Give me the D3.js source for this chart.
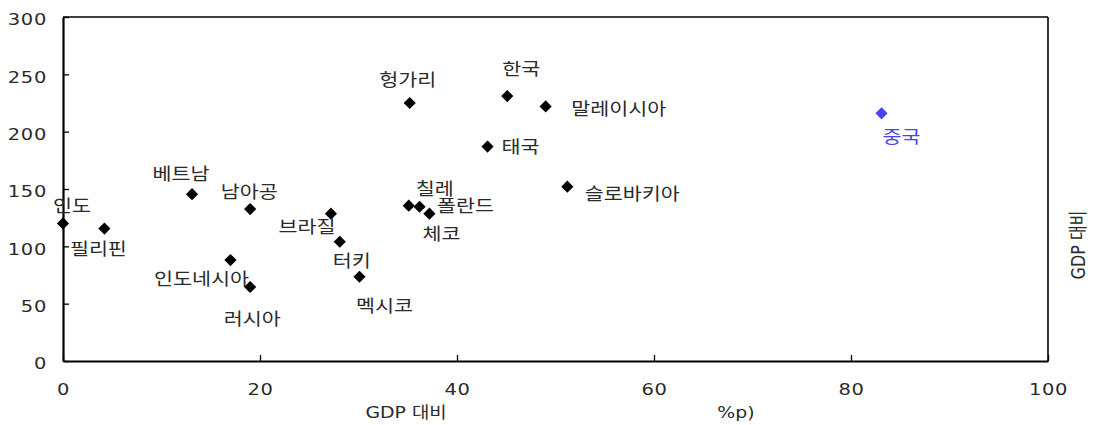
<!DOCTYPE html>
<html>
<head>
<meta charset="utf-8">
<script src="https://cdn.jsdelivr.net/npm/d3@7"></script>
<style>
  html, body { margin: 0; padding: 0; background: #fff; }
  svg { display: block; font-family: "DejaVu Sans", "Noto Sans CJK KR", sans-serif; }
</style>
</head>
<body>
<svg id="chart" width="1094" height="425"></svg>
<script>
// Countries and their two measures (x: % of GDP change, y: % of GDP)
const countries = ["인도", "필리핀", "베트남", "남아공", "인도네시아", "러시아", "브라질", "터키", "멕시코",
                   "칠레", "폴란드", "체코", "헝가리", "한국", "말레이시아", "태국", "슬로바키아", "중국"];
const xValues = [0, 4.2, 13.1, 19, 17, 19, 27.2, 28.1, 30.1, 35.1, 36.2, 37.2, 35.2, 45.1, 49, 43.1, 51.2, 83.1];
const yValues = [120, 115.5, 145.5, 132.5, 88, 64.5, 128.5, 104, 73.5, 135.5, 134.5, 128.5, 225, 231, 222, 187, 152, 216];
const highlighted = ["중국"];

const xTicks = [0, 20, 40, 60, 80, 100];
const yTicks = [0, 50, 100, 150, 200, 250, 300];

// Label placement around each marker (centre offset in px)
const labelOffsets = {
  "인도": [9, -19], "필리핀": [-6, 19], "베트남": [-11, -21], "남아공": [-1, -18],
  "인도네시아": [-29, 18], "러시아": [2, 31], "브라질": [-24, 12], "터키": [12, 18],
  "멕시코": [25, 28], "칠레": [26, -18], "폴란드": [46, -2], "체코": [12, 19],
  "헝가리": [-2, -24], "한국": [14, -28], "말레이시아": [73, 1], "태국": [33, -1],
  "슬로바키아": [65, 6], "중국": [20, 22]
};

const W = 1094, H = 425;
const margin = { top: 17, right: 46, bottom: 64, left: 63 };
const iw = W - margin.left - margin.right;
const ih = H - margin.top - margin.bottom;
const blue = "#4646ea";
const ink = "#2a2a2a";
const stretch = 1.18;   // wide lettering used throughout the figure

const svg = d3.select("#chart");
const g = svg.append("g").attr("transform", `translate(${margin.left},${margin.top})`);

const x = d3.scaleLinear().domain([0, 100]).range([0, iw]);
const y = d3.scaleLinear().domain([0, 300]).range([ih, 0]);

// Frame: top and right edges
g.append("line").attr("x1", 0).attr("x2", iw).attr("y1", 0).attr("y2", 0)
  .attr("stroke", "#000").attr("stroke-width", 1.6);
g.append("line").attr("x1", iw).attr("x2", iw).attr("y1", 0).attr("y2", ih)
  .attr("stroke", "#000").attr("stroke-width", 1.6);

// Axes with inward ticks
const xAxis = g.append("g").attr("transform", `translate(0,${ih})`)
  .call(d3.axisBottom(x).tickValues(xTicks).tickSize(-6).tickSizeOuter(0));
const yAxis = g.append("g")
  .call(d3.axisLeft(y).tickValues(yTicks).tickSize(-6).tickSizeOuter(0));

[xAxis, yAxis].forEach(a => {
  a.select(".domain").attr("stroke", "#000").attr("stroke-width", 2.2);
  a.selectAll(".tick line").attr("stroke", "#000").attr("stroke-width", 1.3);
  a.selectAll(".tick text").attr("fill", ink)
    .style("font-size", "16.5px").style("letter-spacing", "0.6px")
    .style("font-family", "'DejaVu Sans', sans-serif")
    .attr("x", 0).attr("y", 0).attr("dy", null)
    .attr("dominant-baseline", "central");
});
xAxis.selectAll(".tick text").attr("text-anchor", "middle")
  .attr("transform", `translate(0,28.5) scale(${stretch},1)`);
yAxis.selectAll(".tick text").attr("text-anchor", "end")
  .attr("transform", `translate(-16,2) scale(${stretch},1)`);

// Axis titles
function title(tx, ty, txt, rot) {
  svg.append("text")
    .attr("transform", `translate(${tx},${ty}) scale(${stretch},1)` + (rot ? ` rotate(${rot})` : ""))
    .attr("text-anchor", "middle").attr("dominant-baseline", "central")
    .style("font-size", "16px").attr("fill", ink)
    .text(txt);
}
title(406, 413, "GDP 대비");
title(736, 413, "%p)");
title(1079, 245, "GDP 대비", -90);

// Markers
const pts = countries.map((c, i) => ({ name: c, x: xValues[i], y: yValues[i] }));
const diamond = d3.symbol().type(d3.symbolSquare).size(74);

g.selectAll("path.pt").data(pts).join("path")
  .attr("class", "pt")
  .attr("d", diamond)
  .attr("transform", d => `translate(${x(d.x)},${y(d.y)}) rotate(45)`)
  .attr("fill", d => highlighted.includes(d.name) ? blue : "#000");

// Labels
g.selectAll("text.lbl").data(pts).join("text")
  .attr("class", "lbl")
  .attr("transform", d => `translate(${x(d.x) + labelOffsets[d.name][0]},${y(d.y) + labelOffsets[d.name][1]}) scale(${stretch},1)`)
  .attr("text-anchor", "middle")
  .attr("dominant-baseline", "central")
  .style("font-family", "'Noto Sans CJK KR', sans-serif")
  .style("font-size", "17.5px")
  .attr("fill", d => highlighted.includes(d.name) ? blue : ink)
  .text(d => d.name);
</script>
</body>
</html>
